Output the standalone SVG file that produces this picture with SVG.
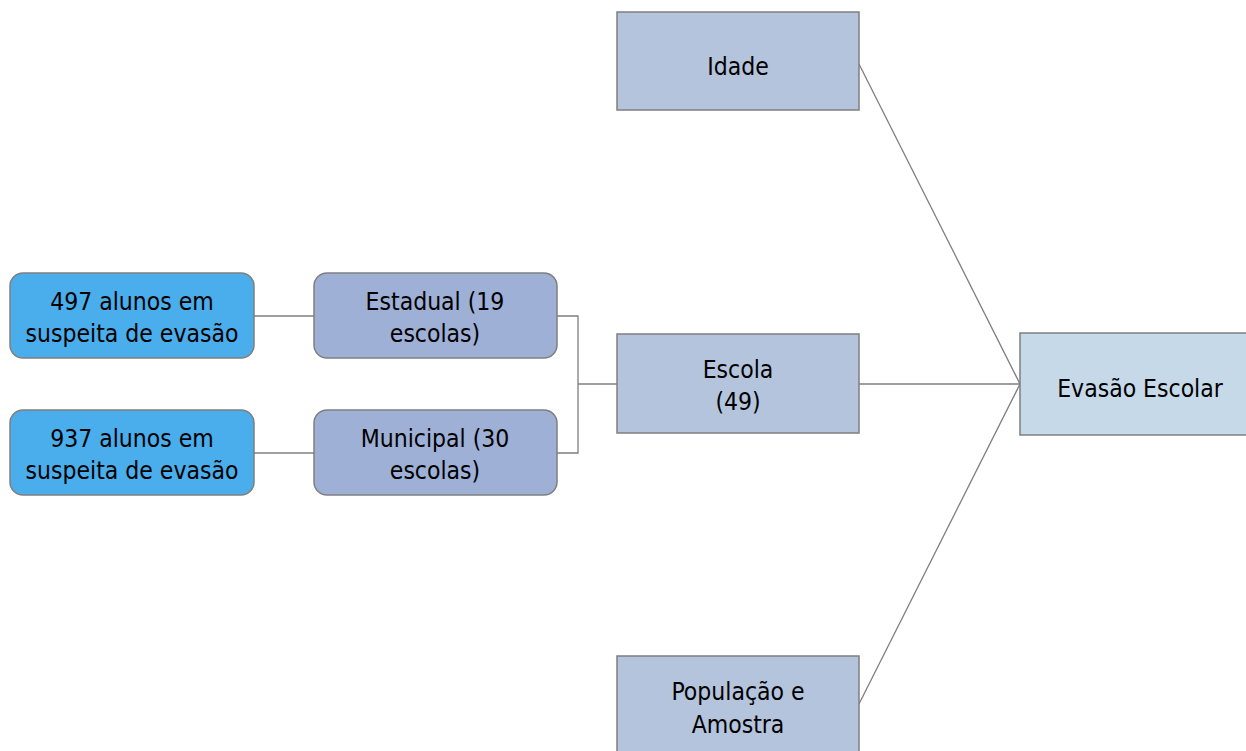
<svg xmlns="http://www.w3.org/2000/svg" width="1246" height="751" viewBox="0 0 1246 751">
<style>
text{font-family:"DejaVu Sans Condensed","DejaVu Sans",sans-serif;font-size:24.5px;fill:#000;text-anchor:middle}
.n{stroke:#7f7f7f;stroke-width:1.5}
.c{stroke:#7f7f7f;stroke-width:1.3;fill:none}
</style>
<rect width="1246" height="751" fill="#fff"/>
<g id="connectors">
<line class="c" x1="254" y1="316" x2="314" y2="316"/>
<line class="c" x1="254" y1="453" x2="314" y2="453"/>
<polyline class="c" points="557,316 578,316 578,453 557,453"/>
<line class="c" x1="578" y1="384" x2="617" y2="384"/>
<line class="c" x1="859" y1="384" x2="1020" y2="384"/>
<line class="c" x1="859" y1="64" x2="1020" y2="384"/>
<line class="c" x1="859" y1="704" x2="1020" y2="384"/>
</g>
<g id="a497"><rect class="n" x="10" y="273" width="244" height="85" rx="13" fill="#4aaeec"/><text x="132" y="310">497 alunos em</text><text x="132" y="342">suspeita de evasão</text></g>
<g id="a937"><rect class="n" x="10" y="410" width="244" height="85" rx="13" fill="#4aaeec"/><text x="132" y="447">937 alunos em</text><text x="132" y="479">suspeita de evasão</text></g>
<g id="estadual"><rect class="n" x="314" y="273" width="243" height="85" rx="13" fill="#9eb0d6"/><text x="435" y="310">Estadual (19</text><text x="435" y="342">escolas)</text></g>
<g id="municipal"><rect class="n" x="314" y="410" width="243" height="85" rx="13" fill="#9eb0d6"/><text x="435" y="447">Municipal (30</text><text x="435" y="479">escolas)</text></g>
<g id="idade"><rect class="n" x="617" y="12" width="242" height="98" fill="#b4c4dc"/><text x="738" y="75">Idade</text></g>
<g id="escola"><rect class="n" x="617" y="334" width="242" height="99" fill="#b4c4dc"/><text x="738" y="378">Escola</text><text x="738" y="410">(49)</text></g>
<g id="populacao"><rect class="n" x="617" y="656" width="242" height="100" fill="#b4c4dc"/><text x="738" y="700">População e</text><text x="738" y="733">Amostra</text></g>
<g id="evasao"><rect class="n" x="1020" y="333" width="230" height="102" fill="#c6d9e8"/><text x="1140" y="397">Evasão Escolar</text></g>
</svg>
